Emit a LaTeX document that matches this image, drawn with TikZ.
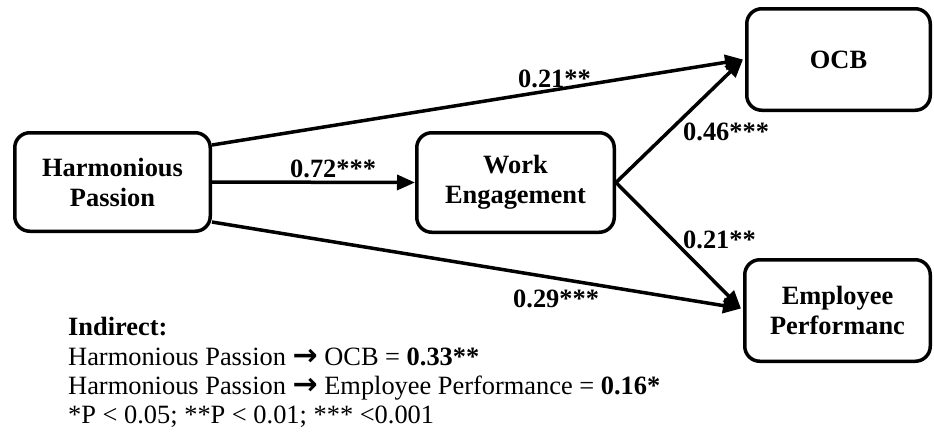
\documentclass[tikz,border=0pt]{standalone}
\usepackage{fontspec}
\setmainfont{Liberation Serif}
\newfontfamily\arrowfont{DejaVu Sans}
\usetikzlibrary{arrows.meta}
\tikzset{
  boxnode/.style={draw=black, line width=3.5pt, rounded corners=15pt, inner sep=0pt,
    align=center, font=\fontsize{26.4}{30}\selectfont\bfseries},
  conn/.style={line width=3.5pt, -{Triangle[length=18pt,width=15pt]}},
  coef/.style={anchor=base west, inner sep=0pt, font=\fontsize{26.4}{30}\selectfont\bfseries},
  note/.style={anchor=base west, inner sep=0pt, font=\fontsize{26.4}{30}\selectfont}
}
\newcommand{\thickarrow}{{\arrowfont\bfseries\fontsize{30}{30}\selectfont →}}
\begin{document}
\begin{tikzpicture}[x=1pt,y=-1pt]
\useasboundingbox (0,0) rectangle (934,432);
\node[boxnode, minimum width=195.5pt, minimum height=98.5pt] (HP) at (112.5,182) {Harmonious\\Passion};
\node[boxnode, minimum width=197.5pt, minimum height=99.5pt] (WE) at (515.5,182.5) {Work\\Engagement};
\node[boxnode, minimum width=183.5pt, minimum height=101.5pt] (OCB) at (838.5,59.5) {OCB};
\node[boxnode, minimum width=185.5pt, minimum height=101.5pt] (EP) at (837.5,310.5) {Employee\\Performanc};

\draw[conn] ([yshift=37pt]HP.east) -- ([xshift=-2pt]OCB.west);
\draw[conn] (HP.east) -- (WE.west);
\draw[conn] ([yshift=-40pt]HP.east) -- ([xshift=-2pt,yshift=2pt]EP.west);
\draw[conn] (WE.east) -- ([xshift=-2pt]OCB.west);
\draw[conn] (WE.east) -- ([xshift=-2pt,yshift=2pt]EP.west);

\node[coef] (c1) at (518,87) {0.21**};
\node[coef] (c2) at (290,177) {0.72***};
\node[coef] (c3) at (683,140) {0.46***};
\node[coef] (c4) at (683,248) {0.21**};
\node[coef] (c5) at (513,307) {0.29***};

\node[note] (n1) at (68,335) {\bfseries Indirect:};
\node[note] (n2) at (68,365) {Harmonious Passion \thickarrow{} OCB = \textbf{0.33**}};
\node[note] (n3) at (68,394) {Harmonious Passion \thickarrow{} Employee Performance = \textbf{0.16*}};
\node[note] (n4) at (68,423) {*P {\textless} 0.05; **P {\textless} 0.01; *** {\textless}0.001};
\end{tikzpicture}
\end{document}
